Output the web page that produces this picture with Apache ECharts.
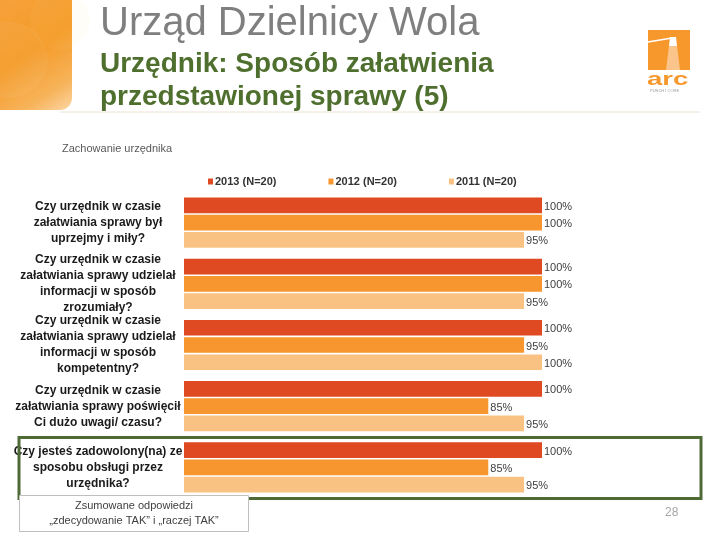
<!DOCTYPE html>
<html>
<head>
<meta charset="utf-8">
<script src="https://cdn.jsdelivr.net/npm/echarts@6/dist/echarts.min.js"></script>
<style>
html,body{margin:0;padding:0;background:#fff;}
#chart{width:720px;height:540px;}
</style>
</head>
<body>
<div id="chart"></div>
<script>
const categories = [
  "Czy urzędnik w czasie\nzałatwiania sprawy był\nuprzejmy i miły?",
  "Czy urzędnik w czasie\nzałatwiania sprawy udzielał\ninformacji w sposób\nzrozumiały?",
  "Czy urzędnik w czasie\nzałatwiania sprawy udzielał\ninformacji w sposób\nkompetentny?",
  "Czy urzędnik w czasie\nzałatwiania sprawy poświęcił\nCi dużo uwagi/ czasu?",
  "Czy jesteś zadowolony(na) ze\nsposobu obsługi przez\nurzędnika?"
];
const seriesNames = ["2013 (N=20)", "2012 (N=20)", "2011 (N=20)"];
const values2013 = [100, 100, 100, 100, 100];
const values2012 = [100, 100, 95, 85, 85];
const values2011 = [95, 95, 100, 95, 95];
const colors = ["#E04A22", "#F7962E", "#F9C282"];

const chart = echarts.init(document.getElementById('chart'), null, {renderer: 'canvas'});

function barSeries(name, data, color) {
  return {
    name: name,
    type: 'bar',
    data: data,
    barGap: '10%',
    barCategoryGap: '18%',
    itemStyle: {color: color},
    label: {
      show: true,
      position: 'right',
      distance: 2,
      offset: [0, 1.5],
      formatter: '{c}%',
      color: '#404040',
      fontFamily: 'Arial, Liberation Sans',
      fontSize: 11
    },
    emphasis: {disabled: true},
    animation: false
  };
}

const option = {
  animation: false,
  backgroundColor: '#ffffff',
  textStyle: {fontFamily: 'Arial, Liberation Sans'},
  legend: {
    data: seriesNames,
    left: 203,
    top: 171,
    itemWidth: 5,
    itemHeight: 6,
    itemGap: 52,
    icon: 'rect',
    selectedMode: false,
    textStyle: {
      fontFamily: 'Arial, Liberation Sans',
      fontSize: 11,
      fontWeight: 'bold',
      color: '#333333',
      padding: [0, 0, 0, -3]
    }
  },
  grid: {left: 184, right: 178, top: 192, height: 306, containLabel: false},
  xAxis: {
    type: 'value',
    min: 0,
    max: 100,
    show: false
  },
  yAxis: {
    type: 'category',
    data: categories,
    inverse: true,
    axisLine: {show: false},
    axisTick: {show: false},
    splitLine: {show: false},
    axisLabel: {
      align: 'center',
      margin: 86,
      fontFamily: 'Arial, Liberation Sans',
      fontSize: 12,
      fontWeight: 'bold',
      lineHeight: 16,
      color: '#1a1a1a'
    }
  },
  series: [
    barSeries(seriesNames[0], values2013, colors[0]),
    barSeries(seriesNames[1], values2012, colors[1]),
    barSeries(seriesNames[2], values2011, colors[2])
  ],
  graphic: [
    // orange decorative block top-left
    {
      type: 'rect', z: 0,
      shape: {x: 0, y: 0, width: 72, height: 110, r: [0, 0, 12, 0]},
      style: {
        fill: {
          type: 'linear', x: 0, y: 0, x2: 1, y2: 1,
          colorStops: [
            {offset: 0, color: '#F6A23C'},
            {offset: 0.45, color: '#F49A26'},
            {offset: 0.8, color: '#F7B35A'},
            {offset: 1, color: '#FCD7A6'}
          ]
        }
      }
    },
    {
      type: 'circle', z: 1, silent: true,
      shape: {cx: 10, cy: 60, r: 38},
      style: {fill: 'rgba(255,255,255,0.05)'}
    },
    {
      type: 'circle', z: 1, silent: true,
      shape: {cx: 60, cy: 20, r: 30},
      style: {fill: 'rgba(255,220,160,0.07)'}
    },
    // separator line under header
    {
      type: 'line', z: 1,
      shape: {x1: 60, y1: 112, x2: 700, y2: 112},
      style: {stroke: '#ECE3D6', lineWidth: 1}
    },
    // title
    {
      type: 'text', z: 2, left: 100, top: 4,
      style: {text: 'Urząd Dzielnicy Wola', fill: '#7F7F7F', font: '40px Arial, "Liberation Sans"'}
    },
    {
      type: 'text', z: 2, left: 100, top: 48,
      style: {text: 'Urzędnik: Sposób załatwienia\nprzedstawionej sprawy (5)', fill: '#4F6F2E', font: 'bold 28px Arial, "Liberation Sans"', lineHeight: 33}
    },
    // logo
    {
      type: 'rect', z: 2,
      shape: {x: 648, y: 30, width: 42, height: 40},
      style: {fill: '#F7982D'}
    },
    {
      type: 'polyline', z: 3,
      shape: {points: [[648, 42], [672, 38]]},
      style: {stroke: '#ffffff', lineWidth: 1.5}
    },
    {
      type: 'polygon', z: 3,
      shape: {points: [[670, 37], [676, 37], [677, 46], [669, 46]]},
      style: {fill: '#ffffff'}
    },
    {
      type: 'polygon', z: 3,
      shape: {points: [[669, 46], [677, 46], [680, 70], [666, 70]]},
      style: {fill: '#FBC48A'}
    },
    {
      type: 'text', z: 2, x: 647, y: 70, scaleX: 1.45,
      style: {text: 'arc', fill: '#F7982D', font: 'bold 19px Arial, "Liberation Sans"'}
    },
    {
      type: 'text', z: 2, left: 650, top: 89,
      style: {text: 'PUNCH I CORE', fill: '#9a9a9a', font: '4px Arial, "Liberation Sans"'}
    },
    // subtitle
    {
      type: 'text', z: 2, left: 62, top: 143,
      style: {text: 'Zachowanie urzędnika', fill: '#595959', font: '11px Arial, "Liberation Sans"'}
    },
    // green highlight box
    {
      type: 'rect', z: 5,
      shape: {x: 19, y: 437.5, width: 682, height: 61},
      style: {fill: 'none', stroke: '#4E6B36', lineWidth: 3}
    },
    // footnote box
    {
      type: 'rect', z: 5,
      shape: {x: 19.5, y: 495.5, width: 229, height: 36},
      style: {fill: '#ffffff', stroke: '#BFBFBF', lineWidth: 1}
    },
    {
      type: 'text', z: 6, x: 134, y: 513,
      style: {
        text: 'Zsumowane odpowiedzi\n„zdecydowanie TAK” i „raczej TAK”',
        fill: '#404040', font: '11px Arial, "Liberation Sans"',
        align: 'center', verticalAlign: 'middle', lineHeight: 15
      }
    },
    {
      type: 'text', z: 6, left: 665, top: 507,
      style: {text: '28', fill: '#A6A6A6', font: '12px Arial, "Liberation Sans"'}
    }
  ]
};
chart.setOption(option);
</script>
</body>
</html>
